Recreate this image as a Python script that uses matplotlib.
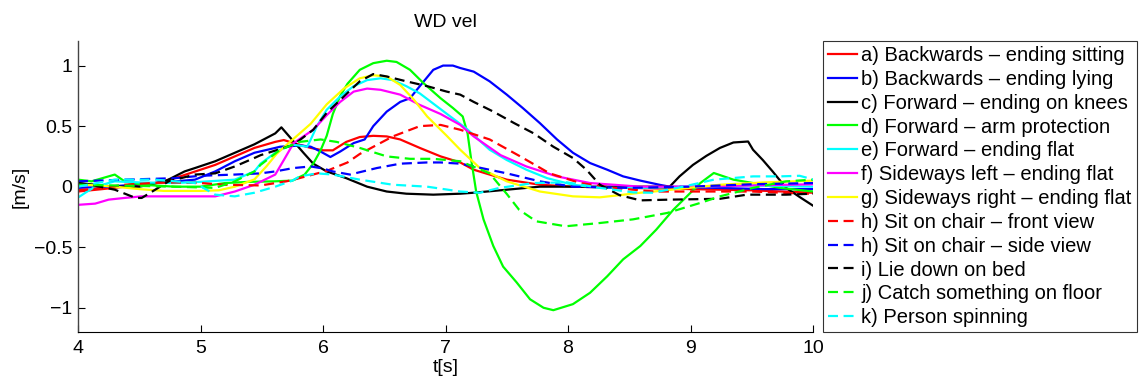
import numpy as np
import matplotlib
matplotlib.use('Agg')
import matplotlib.pyplot as plt

plt.rcParams['font.family'] = ['Liberation Sans', 'DejaVu Sans']

# ---- walking-direction velocity traces, one (t, v) pair of lists per activity ----
t_a = [4.0, 4.2, 4.38, 4.63, 4.79, 5.0, 5.12, 5.28, 5.44, 5.61, 5.68, 5.76, 5.9, 6.0, 6.08, 6.19, 6.30, 6.41,
       6.52, 6.63, 6.79, 6.96, 7.12, 7.23, 7.36, 7.50, 7.77, 8.04, 8.5, 9.0, 9.5, 10.0]
v_a = [-0.04, -0.02, 0.0, 0.03, 0.07, 0.14, 0.18, 0.25, 0.32, 0.37, 0.385, 0.36, 0.32, 0.30, 0.30, 0.37, 0.41, 0.42,
       0.415, 0.39, 0.32, 0.25, 0.20, 0.14, 0.10, 0.058, 0.016, 0.0, -0.01, -0.02, -0.03, -0.05]

t_b = [4.0, 4.25, 4.5, 4.75, 4.955, 5.12, 5.28, 5.44, 5.61, 5.65, 5.82, 5.90, 5.98, 6.06, 6.14, 6.25, 6.34, 6.41,
       6.52, 6.63, 6.71, 6.79, 6.90, 6.98, 7.06, 7.12, 7.23, 7.36, 7.50, 7.63, 7.77, 7.91, 8.04, 8.18, 8.32, 8.45,
       8.59, 8.75, 8.83, 9.2, 9.6, 10.0]
v_b = [-0.01, 0.0, 0.02, 0.04, 0.058, 0.126, 0.21, 0.28, 0.32, 0.33, 0.34, 0.33, 0.29, 0.245, 0.29, 0.36, 0.39, 0.50,
       0.62, 0.70, 0.73, 0.83, 0.965, 1.0, 1.0, 0.98, 0.95, 0.87, 0.76, 0.65, 0.525, 0.39, 0.28, 0.195, 0.14, 0.085,
       0.05, 0.015, 0.0, -0.01, -0.02, -0.02]

t_c = [4.0, 4.14, 4.3, 4.5, 4.71, 4.87, 4.955, 5.12, 5.28, 5.44, 5.61, 5.66, 5.84, 5.92, 6.03, 6.19, 6.36, 6.52,
       6.68, 6.90, 7.12, 7.23, 7.50, 7.77, 8.04, 8.5, 8.83, 8.91, 9.02, 9.13, 9.24, 9.35, 9.47, 9.51, 9.59, 9.67,
       9.78, 9.89, 10.0]
v_c = [0.03, 0.016, 0.0, 0.0, 0.044, 0.126, 0.154, 0.21, 0.28, 0.35, 0.44, 0.49, 0.28, 0.19, 0.126, 0.07, 0.0, -0.04,
       -0.058, -0.066, -0.058, -0.05, -0.025, 0.0, 0.0, 0.0, 0.0, 0.085, 0.18, 0.255, 0.32, 0.365, 0.373, 0.305, 0.22,
       0.126, -0.01, -0.085, -0.157]

t_d = [4.0, 4.11, 4.30, 4.38, 4.52, 4.79, 5.0, 5.2, 5.4, 5.6, 5.75, 5.85, 5.92, 5.98, 6.03, 6.08, 6.14, 6.20, 6.30,
       6.41, 6.52, 6.60, 6.71, 6.82, 6.96, 7.06, 7.14, 7.18, 7.21, 7.25, 7.31, 7.39, 7.47, 7.58, 7.69, 7.80, 7.88,
       8.04, 8.18, 8.32, 8.45, 8.59, 8.72, 8.86, 8.97, 9.08, 9.19, 9.35, 9.51, 9.73, 10.0]
v_d = [0.058, 0.044, 0.10, 0.044, 0.016, 0.0, 0.0, 0.03, 0.04, 0.044, 0.05, 0.10, 0.19, 0.30, 0.42, 0.60, 0.75, 0.85,
       0.965, 1.02, 1.04, 1.03, 0.965, 0.855, 0.73, 0.65, 0.58, 0.44, 0.22, -0.04, -0.27, -0.49, -0.66, -0.79, -0.93,
       -1.0, -1.02, -0.97, -0.876, -0.74, -0.60, -0.49, -0.355, -0.19, -0.08, 0.03, 0.113, 0.058, 0.03, -0.01, -0.04]

t_e = [4.0, 4.06, 4.14, 4.30, 4.5, 4.79, 5.0, 5.28, 5.44, 5.49, 5.61, 5.65, 5.76, 5.87, 5.90, 5.95, 6.03, 6.14, 6.25,
       6.36, 6.47, 6.57, 6.68, 6.79, 6.96, 7.17, 7.36, 7.50, 7.66, 7.83, 8.04, 8.26, 8.6, 9.0, 9.5, 10.0]
v_e = [-0.09, -0.05, 0.0, 0.044, 0.035, 0.03, 0.04, 0.058, 0.126, 0.19, 0.28, 0.305, 0.346, 0.33, 0.39, 0.50, 0.635,
       0.745, 0.83, 0.88, 0.895, 0.88, 0.83, 0.77, 0.64, 0.48, 0.305, 0.22, 0.14, 0.07, 0.016, -0.01, -0.01, 0.0,
       0.01, 0.0]

t_f = [4.0, 4.14, 4.25, 4.38, 4.52, 4.79, 5.12, 5.28, 5.44, 5.61, 5.68, 5.76, 5.92, 6.03, 6.14, 6.25, 6.36, 6.47,
       6.63, 6.79, 6.96, 7.12, 7.23, 7.45, 7.66, 7.91, 8.18, 8.59, 9.0, 9.5, 10.0]
v_f = [-0.15, -0.14, -0.107, -0.093, -0.08, -0.08, -0.08, -0.04, 0.016, 0.1, 0.22, 0.36, 0.47, 0.59, 0.70, 0.785,
       0.81, 0.80, 0.76, 0.675, 0.60, 0.51, 0.415, 0.26, 0.167, 0.085, 0.03, 0.0, 0.0, 0.01, 0.02]

t_g = [4.0, 4.3, 4.5, 4.7, 5.0, 5.15, 5.28, 5.44, 5.54, 5.62, 5.73, 5.81, 5.90, 6.03, 6.17, 6.30, 6.41, 6.52, 6.63,
       6.74, 6.85, 6.96, 7.01, 7.12, 7.28, 7.50, 7.77, 8.04, 8.26, 8.42, 8.59, 8.70, 9.24, 9.6, 10.0]
v_g = [0.02, 0.0, -0.02, -0.035, -0.035, -0.03, 0.0, 0.06, 0.17, 0.27, 0.37, 0.44, 0.52, 0.68, 0.81, 0.895, 0.92,
       0.91, 0.84, 0.72, 0.58, 0.47, 0.42, 0.305, 0.154, 0.044, -0.04, -0.08, -0.088, -0.07, -0.05, -0.04, 0.016,
       0.035, 0.05]

t_h1 = [4.0, 4.2, 4.38, 4.6, 4.8, 5.0, 5.2, 5.49, 5.7, 5.76, 6.03, 6.2, 6.30, 6.57, 6.79, 6.96, 7.12, 7.36, 7.61,
        7.85, 8.10, 8.37, 8.7, 9.0, 9.5, 10.0]
v_h1 = [-0.03, -0.01, 0.016, 0.03, 0.035, 0.03, 0.016, 0.01, 0.044, 0.058, 0.13, 0.2, 0.27, 0.415, 0.50, 0.51, 0.47,
        0.39, 0.25, 0.11, 0.03, -0.01, -0.04, -0.04, -0.04, -0.06]

t_h2 = [4.0, 4.38, 4.79, 5.0, 5.28, 5.49, 5.61, 5.76, 5.90, 6.0, 6.08, 6.22, 6.44, 6.63, 6.85, 6.96, 7.12, 7.23,
        7.50, 7.77, 8.04, 8.5, 9.0, 9.5, 10.0]
v_h2 = [0.044, 0.058, 0.07, 0.09, 0.1, 0.11, 0.126, 0.154, 0.167, 0.15, 0.126, 0.1, 0.154, 0.19, 0.20, 0.20, 0.19,
        0.167, 0.11, 0.044, 0.0, -0.01, 0.0, 0.02, 0.03]

t_i = [4.0, 4.14, 4.30, 4.47, 4.52, 4.63, 4.74, 4.955, 5.12, 5.28, 5.44, 5.49, 5.76, 5.92, 6.03, 6.17, 6.30, 6.41,
       6.52, 6.68, 6.85, 7.01, 7.12, 7.23, 7.39, 7.56, 7.72, 7.88, 8.04, 8.15, 8.26, 8.42, 8.59, 8.83, 9.24, 9.46,
       9.78, 10.0]
v_i = [0.03, 0.008, -0.025, -0.093, -0.093, -0.025, 0.044, 0.1, 0.11, 0.167, 0.237, 0.26, 0.346, 0.47, 0.61, 0.745,
       0.87, 0.93, 0.91, 0.87, 0.83, 0.785, 0.76, 0.70, 0.62, 0.525, 0.44, 0.33, 0.237, 0.14, 0.016, -0.07, -0.113,
       -0.107, -0.10, -0.066, -0.066, -0.058]

t_j = [4.0, 4.3, 4.79, 5.12, 5.28, 5.44, 5.49, 5.65, 5.81, 5.98, 6.11, 6.30, 6.52, 6.71, 6.90, 7.12, 7.36, 7.45,
       7.50, 7.6, 7.74, 7.98, 8.26, 8.53, 8.81, 9.08, 9.24, 9.51, 9.78, 10.0]
v_j = [0.016, 0.01, 0.0, -0.01, 0.044, 0.126, 0.18, 0.305, 0.37, 0.39, 0.37, 0.32, 0.25, 0.23, 0.23, 0.21, 0.11, 0.0,
       -0.06, -0.19, -0.286, -0.327, -0.30, -0.27, -0.217, -0.134, -0.08, -0.01, 0.044, 0.058]

t_k = [4.0, 4.30, 4.63, 4.955, 5.12, 5.28, 5.44, 5.61, 5.75, 5.81, 5.95, 6.08, 6.30, 6.57, 6.85, 7.12, 7.28, 7.44,
       7.72, 7.99, 8.26, 8.53, 8.69, 8.94, 9.19, 9.51, 9.73, 9.89, 10.0]
v_k = [0.0, 0.058, 0.058, 0.03, -0.066, -0.08, -0.05, 0.0, 0.05, 0.085, 0.11, 0.1, 0.058, 0.016, 0.0, -0.04, -0.05,
       -0.01, 0.03, 0.036, -0.01, -0.047, -0.05, 0.0, 0.058, 0.085, 0.085, 0.09, 0.06]

labels = ['a) Backwards \u2013 ending sitting', 'b) Backwards \u2013 ending lying',
          'c) Forward \u2013 ending on knees', 'd) Forward \u2013 arm protection',
          'e) Forward \u2013 ending flat', 'f) Sideways left \u2013 ending flat',
          'g) Sideways right \u2013 ending flat', 'h) Sit on chair \u2013 front view',
          'h) Sit on chair \u2013 side view', 'i) Lie down on bed',
          'j) Catch something on floor', 'k) Person spinning']
times = [t_a, t_b, t_c, t_d, t_e, t_f, t_g, t_h1, t_h2, t_i, t_j, t_k]
values = [v_a, v_b, v_c, v_d, v_e, v_f, v_g, v_h1, v_h2, v_i, v_j, v_k]
colors = ['#ff0000', '#0000ff', '#000000', '#00ff00', '#00ffff', '#ff00ff', '#ffff00',
          '#ff0000', '#0000ff', '#000000', '#00ff00', '#00ffff']
dashed = [False] * 7 + [True] * 5

fig = plt.figure(figsize=(11.44, 3.83), dpi=100)
ax = fig.add_axes([0.0682, 0.1332, 0.6425, 0.7588])

for t, v, c, d, lab in zip(times, values, colors, dashed, labels):
    if d:
        ax.plot(t, v, color=c, lw=1.6, dashes=(4.5, 2.5), label=lab)
    else:
        ax.plot(t, v, color=c, lw=1.6, label=lab)

ax.set_xlim(4, 10)
ax.set_ylim(-1.2, 1.2)
ax.set_xticks([4, 5, 6, 7, 8, 9, 10])
ax.set_yticks([-1, -0.5, 0, 0.5, 1])
ax.set_yticklabels(['\u22121', '\u22120.5', '0', '0.5', '1'])
ax.spines['top'].set_visible(False)
ax.spines['right'].set_visible(False)
ax.spines['left'].set_color('#444444')
ax.spines['left'].set_linewidth(1.0)
ax.spines['bottom'].set_linewidth(0.8)
ax.tick_params(direction='in', length=5, width=0.8, labelsize=14)
ax.tick_params(axis='x', pad=6)
ax.tick_params(axis='y', pad=4)

ax.set_title('WD vel', fontsize=14, pad=10)
ax.set_xlabel('t[s]', fontsize=14, labelpad=1)
ax.set_ylabel('[m/s]', fontsize=14, labelpad=4)

# legend sits outside the axes, to the right, spanning the full axes height
leg = fig.legend(loc='upper left', bbox_to_anchor=(0.7194, 0.893), bbox_transform=fig.transFigure,
                 borderaxespad=0, fontsize=14.5, handlelength=1.45, handletextpad=0.2,
                 labelspacing=0.24, borderpad=0.25, fancybox=False, frameon=True)
leg.get_frame().set_edgecolor('black')
leg.get_frame().set_linewidth(0.8)

fig.savefig('out.png', dpi=100)
